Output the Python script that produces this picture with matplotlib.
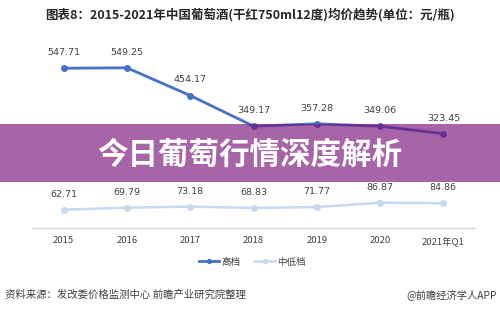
import matplotlib
matplotlib.use("Agg")
import matplotlib.pyplot as plt
from matplotlib.patches import Rectangle

plt.rcParams['font.family'] = ['Noto Sans CJK SC', 'DejaVu Sans']

categories = ["2015", "2016", "2017", "2018", "2019", "2020", "2021年Q1"]
high_values = [547.71, 549.25, 454.17, 349.17, 357.28, 349.06, 323.45]
low_values = [62.71, 69.79, 73.18, 68.83, 71.77, 86.87, 84.86]
series_names = ["高档", "中低档"]
title = "图表8：2015-2021年中国葡萄酒(干红750ml12度)均价趋势(单位：元/瓶)"
source = "资料来源：发改委价格监测中心 前瞻产业研究院整理"
credit = "@前瞻经济学人APP"
banner = "今日葡萄行情深度解析"

W, H = 500, 309
fig = plt.figure(figsize=(W / 100, H / 100), dpi=100)
fig.patch.set_facecolor("white")

ax = fig.add_axes([32 / W, 1 - 228 / H, 443 / W, 175 / H])
x = list(range(len(categories)))
ax.plot(x, high_values, color="#4472c4", lw=2.0, marker="o", ms=4.0,
        label=series_names[0], zorder=3)
ax.plot(x, low_values, color="#c6d9f1", lw=1.8, marker="o", ms=4.0,
        label=series_names[1], zorder=2)
for xi, v in zip(x, high_values):
    ax.annotate(f"{v:.2f}", (xi, v), xytext=(0, 8), textcoords="offset points",
                ha="center", va="bottom", fontsize=6.8, color="#404040",
                family=["DejaVu Sans"])
for xi, v in zip(x, low_values):
    ax.annotate(f"{v:.2f}", (xi, v), xytext=(0, 8), textcoords="offset points",
                ha="center", va="bottom", fontsize=6.8, color="#404040",
                family=["DejaVu Sans"])

ax.set_xlim(-0.5, len(categories) - 0.5)
ax.set_ylim(0, 600)
ax.set_xticks(x)
ax.set_xticklabels(categories, fontsize=6.8, color="#404040")
ax.tick_params(axis="x", length=0, pad=6)
ax.set_yticks([])
for s in ["top", "right", "left"]:
    ax.spines[s].set_visible(False)
ax.spines["bottom"].set_color("#d9d9d9")
ax.spines["bottom"].set_linewidth(1.0)
ax.set_facecolor("none")

leg = fig.legend(loc="center", bbox_to_anchor=(252 / W, 1 - 262 / H), ncol=2,
                 frameon=False, fontsize=6.8, handlelength=2.2, columnspacing=1.5,
                 handletextpad=0.2, markerscale=0.7)
for t in leg.get_texts():
    t.set_color("#404040")

fig.text(250 / W, 1 - 15 / H, title, ha="center", va="center", fontsize=9.0,
         fontweight="bold", color="#262626")
fig.text(5 / W, 1 - 295 / H, source, ha="left", va="center", fontsize=7.5,
         color="#404040")
fig.text(497 / W, 1 - 295 / H, credit, ha="right", va="center", fontsize=7.4,
         color="#404040")

fig.add_artist(Rectangle((0, 1 - 182 / H), 1, 58 / H, transform=fig.transFigure,
                         facecolor="#791179", alpha=0.65, edgecolor="none", zorder=5))
fig.text(250 / W, 1 - 155 / H, banner, ha="center", va="center", fontsize=22,
         fontweight="bold", color="white", zorder=6)

fig.savefig("out.png", dpi=100)
